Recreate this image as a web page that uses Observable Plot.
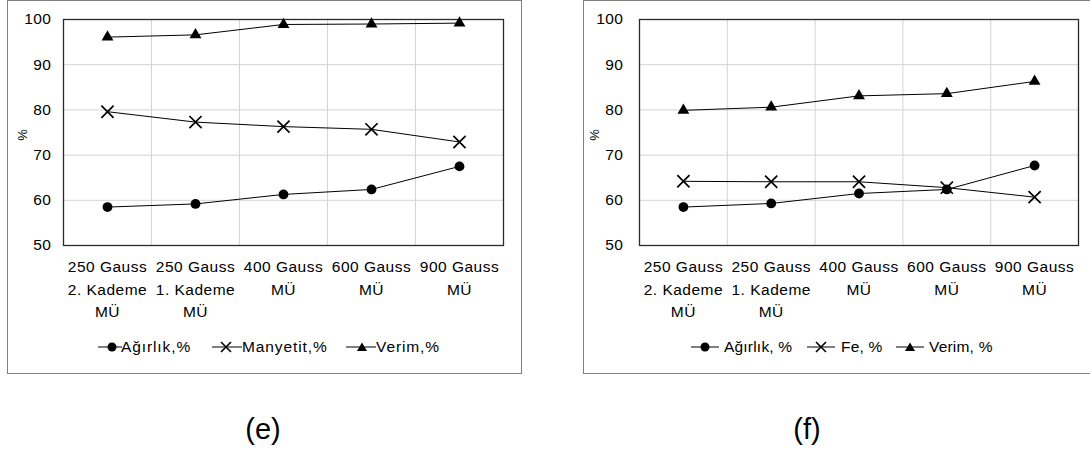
<!DOCTYPE html>
<html>
<head>
<meta charset="utf-8">
<script src="https://cdn.jsdelivr.net/npm/d3@7"></script>
<script src="https://cdn.jsdelivr.net/npm/@observablehq/plot@0.6"></script>
<style>
  html, body { margin: 0; padding: 0; background: #fff; }
  body { position: relative; width: 1090px; height: 454px; overflow: hidden; font-family: "Liberation Sans", Arial, sans-serif; color: #000; }
  .panel { position: absolute; top: 0; height: 374px; border: 1.5px solid #808080; box-sizing: border-box; }
  .chart { position: absolute; top: 0; }
  .ylab { position: absolute; font-size: 13px; transform: translate(-50%, -50%) rotate(-90deg); line-height: 1; }
  .leg { position: absolute; top: 338px; height: 18px; line-height: 18px; font-size: 15.5px; white-space: nowrap; }
  .legsym { position: absolute; top: 341px; }
  .cap { position: absolute; top: 415px; font-size: 29px; line-height: 29px; transform: translateX(-50%); }
</style>
</head>
<body>
<div class="panel" style="left:7px; width:515px;"></div>
<div class="panel" style="left:583px; width:530px;"></div>
<div id="chartE" class="chart" style="left:0px;"></div>
<div id="chartF" class="chart" style="left:560px;"></div>
<div id="overlay"></div>
<script>
// ---- data ----
const categoriesE = ["250 Gauss\n2. Kademe\nMÜ", "250 Gauss\n1. Kademe\nMÜ", "400 Gauss\nMÜ", "600 Gauss\nMÜ", "900 Gauss\nMÜ"];
const categoriesF = ["250 Gauss\n2. Kademe\nMÜ", "250 Gauss\n1. Kademe\nMÜ", "400 Gauss\nMÜ", "600 Gauss\nMÜ", "900 Gauss\nMÜ"];
const agirlikE  = [58.5, 59.2, 61.3, 62.4, 67.5];
const manyetitE = [79.6, 77.3, 76.3, 75.7, 72.9];
const verimE    = [96.1, 96.6, 98.9, 99.0, 99.2];
const agirlikF  = [58.5, 59.3, 61.5, 62.4, 67.7];
const feF       = [64.2, 64.1, 64.1, 62.8, 60.7];
const verimF    = [79.9, 80.6, 83.1, 83.6, 86.3];
const yTicks = [50, 60, 70, 80, 90, 100];
const legendE = ["Ağırlık,%", "Manyetit,%", "Verim,%"];
const legendF = ["Ağırlık, %", "Fe, %", "Verim, %"];
const yLabel = "%";
const captions = ["(e)", "(f)"];

const toRows = vals => vals.map((v, i) => ({i: i + 0.5, v}));

function makeChart({cats, series, marginLeft, marginRight, tickPadding}) {
  const marks = [
    Plot.gridY({ticks: [60, 70, 80, 90], stroke: "#d4d4d4", strokeOpacity: 1}),
    Plot.gridX({ticks: d3.range(1, cats.length), stroke: "#d4d4d4", strokeOpacity: 1}),
    Plot.frame({stroke: "#2a2a2a", strokeWidth: 1.3}),
    Plot.axisY({ticks: yTicks, tickSize: 0, tickPadding, label: null, fontSize: 15.5}),
    Plot.text(cats, {x: (d, i) => i + 0.5, text: d => d, frameAnchor: "bottom", lineAnchor: "top", lineHeight: 1.45, dy: 11, fontSize: 15.5, textAnchor: "middle"})
  ];
  for (const s of series) {
    const rows = toRows(s.values);
    marks.push(Plot.line(rows, {x: "i", y: "v", stroke: "#000", strokeWidth: 1}));
    if (s.symbol === "times") {
      marks.push(Plot.dot(rows, {x: "i", y: "v", symbol: "times", r: 5.6, stroke: "#000", strokeWidth: 1.7, fill: "none"}));
    } else {
      marks.push(Plot.dot(rows, {x: "i", y: "v", symbol: s.symbol, r: s.r, fill: "#000", stroke: "none"}));
    }
  }
  return Plot.plot({
    width: 530,
    height: 330,
    marginLeft,
    marginRight,
    marginTop: 19,
    marginBottom: 85,
    x: {domain: [0, cats.length], axis: null},
    y: {domain: [50, 100], axis: null},
    style: {fontFamily: "Liberation Sans, Arial, sans-serif", fontSize: "15.5px", color: "#000", background: "transparent", letterSpacing: "0.5px", overflow: "visible"},
    marks
  });
}

document.getElementById("chartE").appendChild(makeChart({
  cats: categoriesE,
  series: [
    {values: agirlikE, symbol: "circle", r: 4.9},
    {values: manyetitE, symbol: "times"},
    {values: verimE, symbol: "triangle", r: 4.4}
  ],
  marginLeft: 63, marginRight: 27, tickPadding: 12
}));

document.getElementById("chartF").appendChild(makeChart({
  cats: categoriesF,
  series: [
    {values: agirlikF, symbol: "circle", r: 4.9},
    {values: feF, symbol: "times"},
    {values: verimF, symbol: "triangle", r: 4.4}
  ],
  marginLeft: 79, marginRight: 12, tickPadding: 16
}));

// ---- overlay: y labels, legends, captions ----
const overlay = document.getElementById("overlay");
function addDiv(cls, style, text) {
  const d = document.createElement("div");
  d.className = cls;
  d.setAttribute("style", style);
  d.textContent = text;
  overlay.appendChild(d);
}
addDiv("ylab", "left:22px; top:135px;", yLabel);
addDiv("ylab", "left:594px; top:135px;", yLabel);

function symSvg(kind, left, width, cx) {
  const ns = "http://www.w3.org/2000/svg";
  const svg = document.createElementNS(ns, "svg");
  svg.setAttribute("width", width);
  svg.setAttribute("height", 12);
  svg.setAttribute("class", "legsym");
  svg.setAttribute("style", `left:${left}px`);
  let inner = `<line x1="0" x2="${width}" y1="6" y2="6" stroke="#000" stroke-width="1"/>`;
  if (kind === "circle") inner += `<circle cx="${cx}" cy="6" r="4.5" fill="#000"/>`;
  if (kind === "times") inner += `<path d="M${cx-5},1L${cx+5},11M${cx-5},11L${cx+5},1" stroke="#000" stroke-width="1.6"/>`;
  if (kind === "triangle") inner += `<path d="M${cx},1.5L${cx+5},10L${cx-5},10Z" fill="#000"/>`;
  svg.innerHTML = inner;
  overlay.appendChild(svg);
}
const kinds = ["circle", "times", "triangle"];
// left legend
const symE = [[98, 24, 14], [212, 30, 14], [346, 30, 16]];
const txtE = [121, 242, 376];
kinds.forEach((k, j) => { symSvg(k, ...symE[j]); addDiv("leg", `left:${txtE[j]}px; letter-spacing:0.9px;`, legendE[j]); });
// right legend
const symF = [[691, 28, 14], [807, 28, 14], [896, 28, 14]];
const txtF = [724, 841, 929];
kinds.forEach((k, j) => { symSvg(k, ...symF[j]); addDiv("leg", `left:${txtF[j]}px; letter-spacing:0.2px;`, legendF[j]); });

addDiv("cap", "left:263px;", captions[0]);
addDiv("cap", "left:807px;", captions[1]);
</script>
</body>
</html>
